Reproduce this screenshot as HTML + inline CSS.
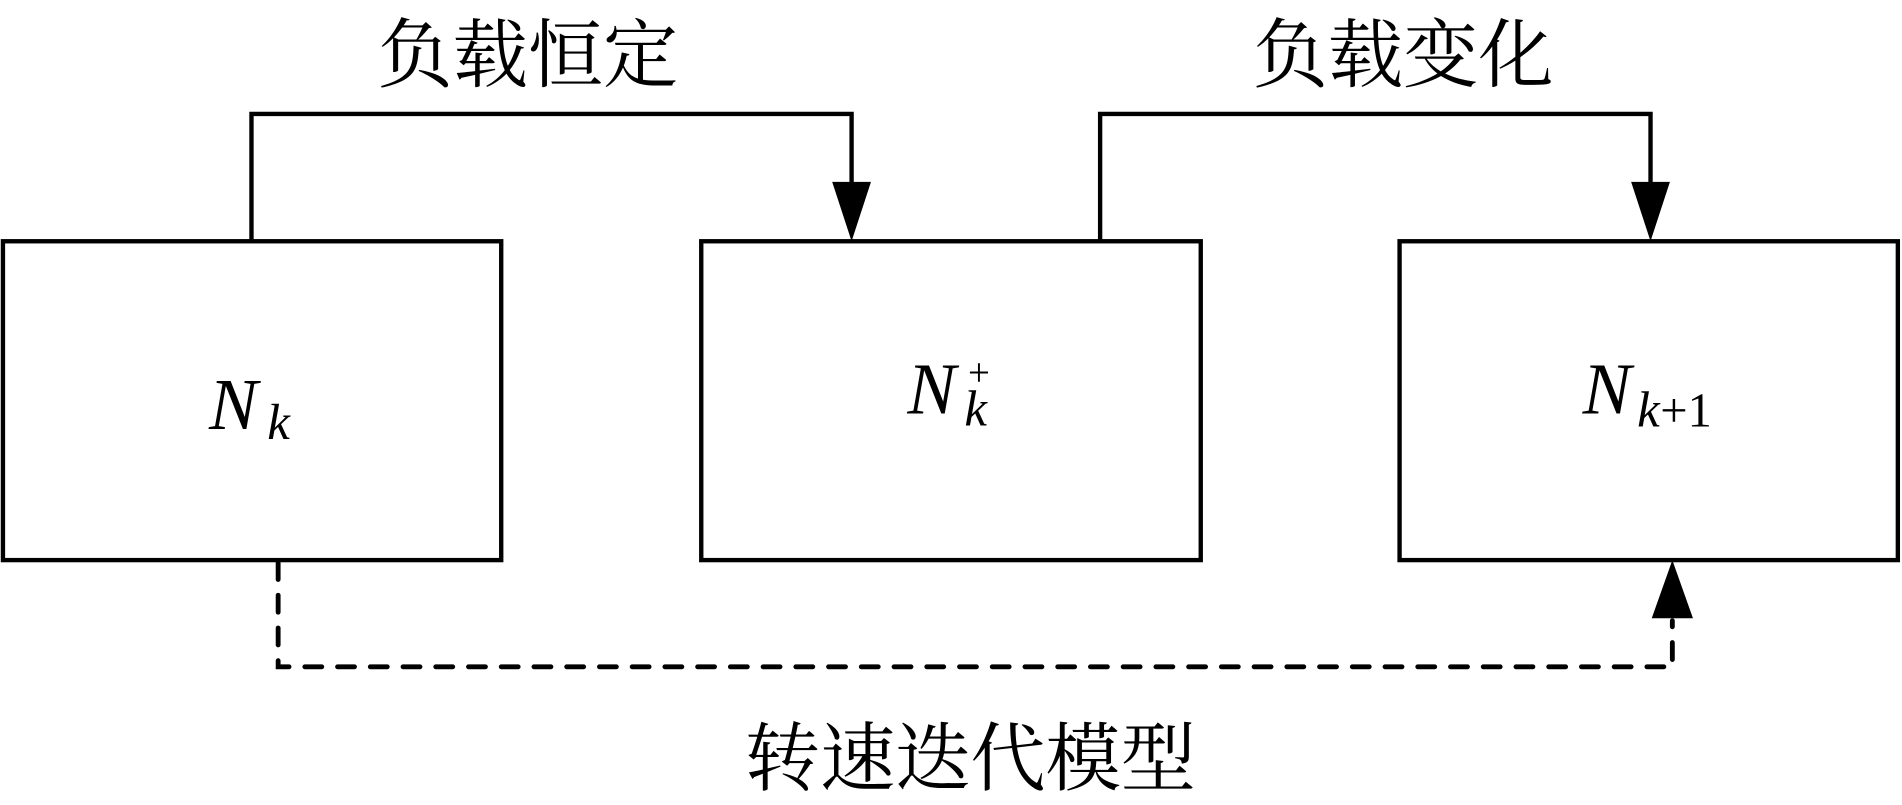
<!DOCTYPE html>
<html><head><meta charset="utf-8"><style>html,body{margin:0;padding:0;background:#fff}svg{display:block}</style></head><body>
<svg width="1902" height="805" viewBox="0 0 1568 664" xmlns="http://www.w3.org/2000/svg">
<g fill="none" stroke="#000" stroke-width="3.6">
<rect x="2" y="199" width="411" height="263"/>
<rect x="578" y="199" width="412" height="263"/>
<rect x="1154" y="199" width="411" height="263"/>
<polyline points="207,199 207,94 702,94 702,152"/>
<polyline points="907,199 907,94 1361,94 1361,152"/>
<polyline points="229,464 229,550 1379,550 1379,512" stroke-dasharray="14,13" stroke-linecap="round" stroke-width="4"/>
</g>
<g fill="#000">
<polygon points="686,150 718,150 702,199"/>
<polygon points="1345,150 1377,150 1361,199"/>
<polygon points="1362,510 1396,510 1379,462"/>
</g>
<g font-family="'Liberation Serif','Noto Serif CJK SC',serif" font-size="62" text-anchor="middle">
<text x="435" y="67">负载恒定</text>
<text x="1157" y="67">负载变化</text>
<text x="800" y="647">转速迭代模型</text>
</g>
<g font-family="'Liberation Serif',serif" font-style="italic">
<text x="172" y="354" font-size="60">N</text>
<text x="220" y="362" font-size="42">k</text>
<text x="748" y="341" font-size="60">N</text>
<text x="795" y="351" font-size="42">k</text>
<text x="1305" y="341" font-size="60">N</text>
<text x="1350" y="352" font-size="42">k</text>
</g>
<g font-family="'Liberation Serif',serif">
<text x="798" y="318" font-size="32">+</text>
<text x="1369" y="352" font-size="40">+1</text>
</g>
</svg>
</body></html>
